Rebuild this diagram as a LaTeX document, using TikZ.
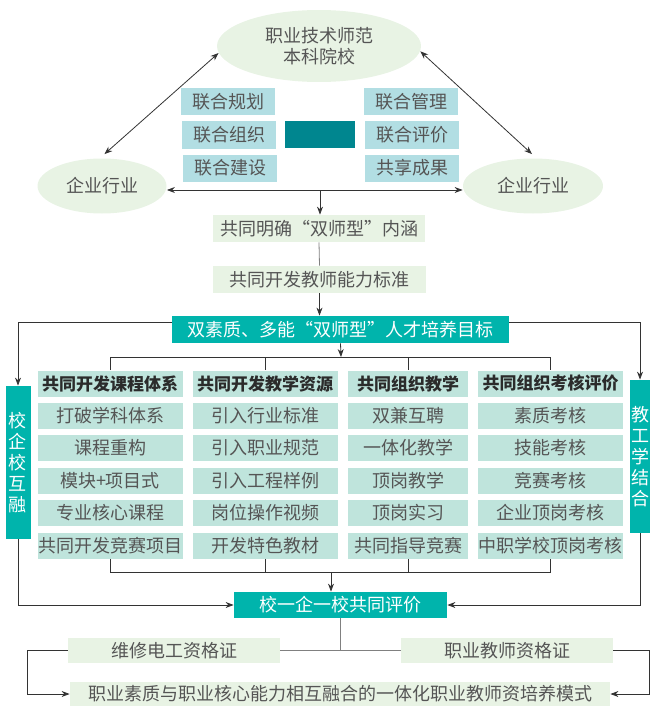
\documentclass[tikz,border=0pt]{standalone}
\usepackage{fontspec}
\setmainfont{Noto Sans CJK SC}
\usetikzlibrary{shapes.geometric,arrows.meta}
\definecolor{lgreen}{HTML}{E8F3E4}
\definecolor{lblue}{HTML}{B2DEE3}
\definecolor{dteal}{HTML}{00868F}
\definecolor{bteal}{HTML}{00B4AC}
\definecolor{mint}{HTML}{BFE4DC}
\definecolor{txt}{HTML}{555555}
\definecolor{hdr}{HTML}{2B2B2B}
\definecolor{ln}{HTML}{333333}
\def\fs{\fontsize{18}{21}\selectfont}
\def\hs{\fontsize{17}{21}\selectfont}
\tikzset{
  elli/.style={ellipse,fill=lgreen,align=center},
  gbox/.style={rectangle,fill=lgreen,minimum height=26pt},
  lbox/.style={rectangle,fill=lblue,minimum width=94pt,minimum height=27pt},
  tbox/.style={rectangle,fill=bteal,text=white,minimum height=26pt},
  cbox/.style={rectangle,fill=mint,minimum height=26pt},
  hbox/.style={cbox,text=hdr,font=\bfseries\hs},
  sbox/.style={rectangle,fill=bteal,text=white,align=center,minimum height=153pt},
}
\begin{document}
\begin{tikzpicture}[x=1pt,y=-1pt,>={Stealth[length=8pt,width=6pt]},line width=0.8pt,
  every node/.style={inner sep=0pt,font=\fs,text=txt}]
\useasboundingbox (0,0) rectangle (650,706);
% top part
\node[elli,minimum width=204pt,minimum height=72pt] (coll) at (319,46) {职业技术师范\\本科院校};
\node[elli,minimum width=129pt,minimum height=55pt] (entL) at (102,186) {企业行业};
\node[elli,minimum width=140pt,minimum height=55pt] (entR) at (533,186) {企业行业};
\node[lbox] (gh) at (228,101.5) {联合规划};
\node[lbox] (zz) at (229,135) {联合组织};
\node[lbox] (js0) at (230,168) {联合建设};
\node[rectangle,fill=dteal,minimum width=70pt,minimum height=27pt] (mid) at (320,134.5) {};
\node[lbox] (gl) at (411,102) {联合管理};
\node[lbox] (pjl) at (412,135) {联合评价};
\node[lbox] (cg) at (412,168) {共享成果};
\draw[ln,<->] (coll.184) -- ([yshift=4pt]entL.85);
\draw[ln,<->] (coll.-3) -- ([yshift=4pt]entR.92);
\draw[ln,<->] ([yshift=-4pt]entL.east) -- ([yshift=-4pt]entR.west);
\coordinate (hc) at (320,190);
% middle chain
\node[gbox,minimum width=212pt,minimum height=27pt] (nh) at (319,228.5) {共同明确“双师型”内涵};
\node[gbox,minimum width=213pt,minimum height=27pt] (bz) at (319.5,279.5) {共同开发教师能力标准};
\node[tbox,minimum width=337pt,minimum height=27pt] (mb) at (340.5,329.5) {双素质、多能“双师型”人才培养目标};
\draw[ln,->] (hc) -- (hc |- nh.north);
\draw[gray] (nh.south) -- (bz.north);
\draw[ln,->] (bz.south) -- (bz.south |- mb.north);
% four columns
\node[hbox,minimum width=145pt] (h1) at (110,383.5) {共同开发课程体系};
\node[hbox,minimum width=145pt] (h2) at (265,383.5) {共同开发教学资源};
\node[hbox,minimum width=120pt] (h3) at (408,383.5) {共同组织教学};
\node[hbox,minimum width=145pt] (h4) at (550.5,383.5) {共同组织考核评价};
\foreach \t [count=\i] in {打破学科体系,课程重构,模块+项目式,专业核心课程,共同开发竞赛项目}
  \node[cbox,minimum width=145pt] (a\i) at (110,{383+32.5*\i}) {\t};
\foreach \t [count=\i] in {引入行业标准,引入职业规范,引入工程样例,岗位操作视频,开发特色教材}
  \node[cbox,minimum width=145pt] (b\i) at (265,{383+32.5*\i}) {\t};
\foreach \t [count=\i] in {双兼互聘,一体化教学,顶岗教学,顶岗实习,共同指导竞赛}
  \node[cbox,minimum width=120pt] (c\i) at (408,{383+32.5*\i}) {\t};
\foreach \t [count=\i] in {素质考核,技能考核,竞赛考核,企业顶岗考核,中职学校顶岗考核}
  \node[cbox,minimum width=145pt] (d\i) at (550.5,{383+32.5*\i}) {\t};
\node[sbox,minimum width=25pt] (xq) at (18,462.5) {校\\企\\校\\互\\融};
\node[sbox,minimum width=20pt] (jg) at (640,456.5) {教\\工\\学\\结\\合};
\coordinate (bt) at (341,357);
\draw[ln,->] (mb.south) -- (bt);
\draw[ln] (h1.north) -- (h1.north |- bt) -- (h4.north |- bt) -- (h4.north);
\draw[ln] (h2.north) -- (h2.north |- bt);
\draw[ln] (h3.north) -- (h3.north |- bt);
\draw[ln,->] ([yshift=7.5pt]mb.west) -| (xq.north);
\draw[ln,->] ([yshift=7.5pt]mb.east) -| (jg.north);
% evaluation and certificates
\node[tbox,minimum width=213pt] (pj) at (340.5,605) {校一企一校共同评价};
\node[gbox,minimum width=212pt,minimum height=25pt] (wx) at (174,650.5) {维修电工资格证};
\node[gbox,minimum width=212pt,minimum height=25pt] (zs) at (507,650.5) {职业教师资格证};
\node[gbox,minimum width=540pt,minimum height=24pt] (ms) at (340,694) {职业素质与职业核心能力相互融合的一体化职业教师资培养模式};
\coordinate (bb) at (331,572);
\draw[ln] (a5.south) -- (a5.south |- bb) -- (d5.south |- bb) -- (d5.south);
\draw[ln] (b5.south) -- (b5.south |- bb);
\draw[ln] (c5.south) -- (c5.south |- bb);
\draw[ln,->] (bb) -- (bb |- pj.north);
\draw[ln,->] (xq.south) |- (pj.west);
\draw[ln,->] (jg.south) |- (pj.east);
\draw[gray] (pj.south) -- (pj.south |- wx.east);
\draw[gray] (wx.east) -- (zs.west);
\draw[ln,->] (wx.west) -- ++(-40,0) |- (ms.west);
\draw[ln,->] (zs.east) -- ++(36,0) |- (ms.east);
\end{tikzpicture}
\end{document}
